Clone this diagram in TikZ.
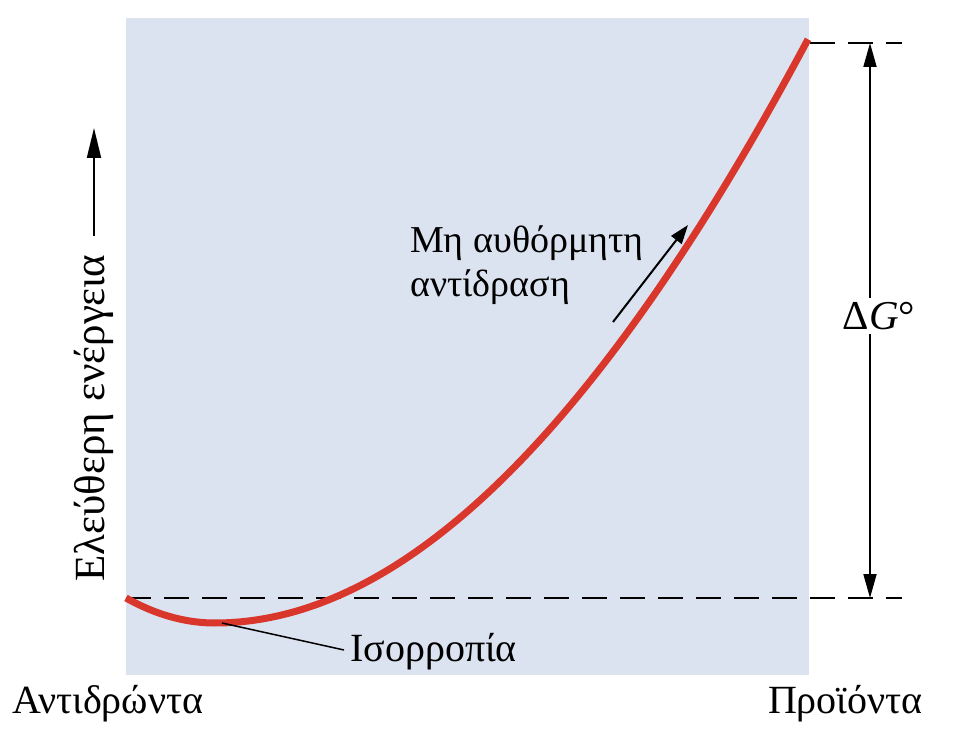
\documentclass[tikz,border=0pt]{standalone}
\usepackage{fontspec}
\setmainfont{Liberation Serif}
\usetikzlibrary{arrows.meta}
\definecolor{panel}{RGB}{220,227,240}
\definecolor{curvered}{RGB}{217,54,44}
\begin{document}
\begin{tikzpicture}[x=1pt,y=-1pt,
  declare function={dl(\t)=(\t-215)/100;},
  lbl/.style={font=\fontsize{40}{44}\selectfont, inner sep=0pt},
  dline/.style={line width=2pt, dash pattern=on 25pt off 13pt},
  bigarrow/.style={line width=1.8pt, {Triangle[length=24pt,width=13pt]}-{Triangle[length=24pt,width=13pt]}},
  axisarrow/.style={line width=2pt, -{Triangle[length=30pt,width=14pt]}},
  smallarrow/.style={line width=2pt, -{Triangle[length=19pt,width=13pt]}},
  energy/.style={line width=7pt, curvered},
  leader/.style={line width=1.5pt}]
\useasboundingbox (0,0) rectangle (954,743);
\fill[white] (0,0) rectangle (954,743);
\fill[panel] (126,18) rectangle (809,675);
% dashed reference levels
\coordinate (topL) at (810,43);
\coordinate (topR) at (902,43);
\coordinate (botL) at (126,598);
\coordinate (botR) at (902,598);
\draw[dline] (topL) -- (topR);
\draw[dline] (botL) -- (botR);
% free energy curve
\draw[energy] plot[domain=126:215, samples=40] (\x,{623-31.6*dl(\x)*dl(\x)})
  -- plot[domain=215:808, samples=150] (\x,{623-18.2*dl(\x)*dl(\x)+0.27*dl(\x)*dl(\x)*dl(\x)});
% Delta G arrow
\coordinate (dgTop) at (870,43);
\coordinate (dgBot) at (870,598);
\draw[bigarrow] (dgBot) -- (dgTop);
\node[lbl, fill=white, inner sep=4pt, font=\fontsize{41}{44}\selectfont] (dg) at (879,316) {Δ\textit{G}°};
% equilibrium
\coordinate (eqpt) at (222,623);
\node[lbl, anchor=base west] (eq) at (350,661) {Ισορροπία};
\coordinate (eqend) at (344,650);
\draw[leader] (eqpt) -- (eqend);
% non-spontaneous reaction
\node[lbl, anchor=base west, align=left, font=\fontsize{38}{44}\selectfont] (ns) at (410,297) {Μη αυθόρμητη\\αντίδραση};
\coordinate (nsA) at (613,322);
\coordinate (nsB) at (688,225);
\draw[smallarrow] (nsA) -- (nsB);
% axis label
\node[lbl, rotate=90, anchor=base west, font=\fontsize{43}{48}\selectfont] (ylab) at (104,582) {Ελεύθερη ενέργεια};
\coordinate (yA) at (94,236);
\coordinate (yB) at (94,128);
\draw[axisarrow] (yA) -- (yB);
% bottom labels
\node[lbl, anchor=base west] (react) at (12,713) {Αντιδρώντα};
\node[lbl, anchor=base east] (prod) at (923,713) {Προϊόντα};
\end{tikzpicture}
\end{document}
